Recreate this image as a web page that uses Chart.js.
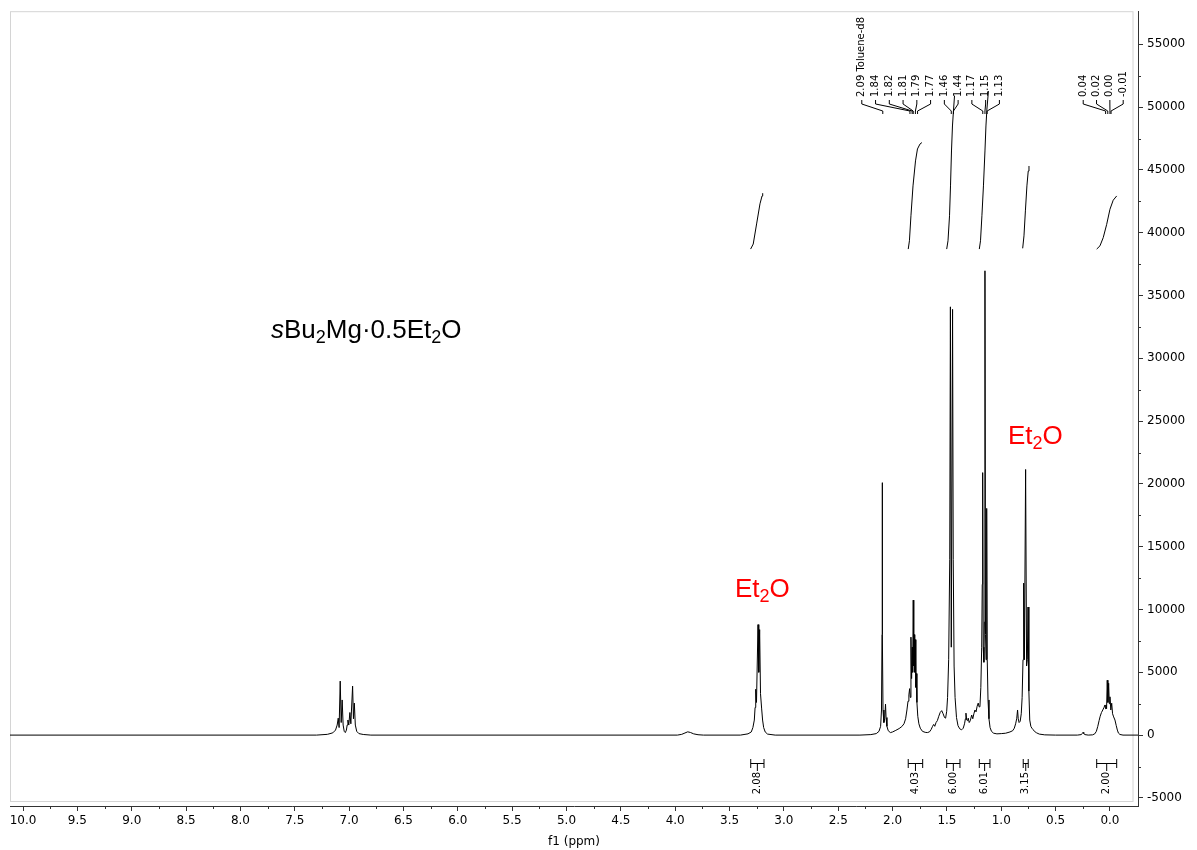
<!DOCTYPE html>
<html>
<head>
<meta charset="utf-8">
<script src="https://cdn.jsdelivr.net/npm/chart.js"></script>
<style>
html,body{margin:0;padding:0;background:#fff;}
#c{display:block;}
</style>
</head>
<body>
<canvas id="c" width="1197" height="850"></canvas>
<script>
// ---------- DATA (ppm, intensity) ----------
const baselineStart = [[10.12,0],[7.30,0]];
const tolueneAromatic = [[7.20,60],[7.15,180],[7.125,400],[7.110,800],[7.100,1350],[7.092,600],[7.082,4300],[7.073,1000],[7.064,2800],[7.055,800],[7.045,300],[7.035,200],[7.025,400],[7.018,800],[7.011,1200],[7.003,800],[6.993,1800],[6.984,900],[6.968,3900],[6.960,1300],[6.952,2550],[6.943,800],[6.930,300],[6.910,120],[6.870,50],[6.80,0]];
const bump389 = [[3.98,0],[3.94,60],[3.91,170],[3.885,260],[3.86,210],[3.83,100],[3.79,30],[3.74,0]];
const et2oCH2 = [[3.40,0],[3.33,100],[3.300,250],[3.285,600],[3.272,1200],[3.265,2200],[3.259,3650],[3.252,2600],[3.238,8800],[3.231,5000],[3.223,8400],[3.215,3300],[3.205,2150],[3.196,1200],[3.186,600],[3.172,250],[3.15,80],[3.08,0]];
const tolueneCH3 = [[2.30,0],[2.20,40],[2.15,120],[2.125,300],[2.110,700],[2.102,2000],[2.097,8000],[2.095,20100],[2.093,8000],[2.088,2000],[2.080,1000],[2.072,1300],[2.065,2470],[2.060,1400],[2.052,700],[2.040,350],[2.020,200],[2.000,250],[1.970,380],[1.940,520],[1.915,680],[1.895,900],[1.880,1300],[1.868,2000]];
const multiplet18 = [[1.858,2700],[1.850,3200],[1.843,3700],[1.837,3000],[1.831,7800],[1.825,4500],[1.819,7000],[1.815,5000],[1.810,10750],[1.805,5500],[1.800,8000],[1.796,5000],[1.791,7600],[1.786,3800],[1.782,4900],[1.776,2600],[1.768,1500],[1.758,900],[1.745,550],[1.725,300],[1.700,220],[1.680,200]];
const doublet145 = [[1.660,260],[1.645,450],[1.632,700],[1.622,850],[1.612,700],[1.600,1000],[1.588,1150],[1.575,1500],[1.562,1800],[1.548,1950],[1.535,1700],[1.522,1400],[1.512,1350],[1.502,1900],[1.494,3000],[1.484,6000],[1.474,14000],[1.468,34100],[1.460,7000],[1.448,33900],[1.442,14000],[1.434,5500],[1.425,3000],[1.412,1400],[1.398,750],[1.382,500],[1.365,420],[1.350,550]];
const triplet115 = [[1.338,900],[1.330,1300],[1.325,1750],[1.318,1200],[1.310,1150],[1.304,1350],[1.295,1000],[1.285,1150],[1.272,1600],[1.262,1300],[1.252,1700],[1.242,2000],[1.232,1850],[1.222,2300],[1.212,2550],[1.204,2250],[1.196,2300],[1.188,3800],[1.180,7000],[1.175,12000],[1.171,20900],[1.166,7000],[1.160,5800],[1.155,9000],[1.150,36970],[1.145,8000],[1.140,6000],[1.134,18050],[1.129,6000],[1.122,2800],[1.113,1300],[1.103,600],[1.090,300],[1.07,150],[1.04,100],[1.00,120],[0.96,150]];
const et2oCH3 = [[0.92,250],[0.895,350],[0.880,550],[0.868,900],[0.858,1300],[0.850,2000],[0.844,1300],[0.836,1000],[0.826,1100],[0.816,1700],[0.808,3000],[0.800,6000],[0.794,12100],[0.787,6000],[0.776,21150],[0.767,5500],[0.760,6000],[0.754,10200],[0.746,3500],[0.738,1200],[0.728,700],[0.718,550],[0.708,450],[0.695,300],[0.675,180],[0.650,80],[0.60,20],[0.50,0]];
const blip025 = [[0.30,0],[0.265,40],[0.255,120],[0.248,220],[0.241,120],[0.230,40],[0.200,0]];
const multiplet002 = [[0.16,20],[0.14,100],[0.125,300],[0.112,700],[0.100,1150],[0.090,1500],[0.078,1800],[0.066,2000],[0.055,2200],[0.046,2400],[0.041,2100],[0.037,2400],[0.031,2100],[0.025,4370],[0.019,2600],[0.012,4130],[0.006,2500],[0.000,3050],[-0.008,2000],[-0.016,2540],[-0.024,1700],[-0.034,1450],[-0.046,1200],[-0.058,750],[-0.068,400],[-0.078,160],[-0.092,50],[-0.12,0],[-0.258,0]];

// integral curves (ppm, curve height on the intensity axis)
const integral1 = [[3.306,38700],[3.282,39100],[3.251,40700],[3.220,42300],[3.201,42930],[3.195,43150]];
const integral2 = [[1.856,38700],[1.845,39360],[1.831,41350],[1.812,43730],[1.789,45720],[1.771,46670],[1.748,47060],[1.730,47180]];
const integral3 = [[1.502,38700],[1.490,39360],[1.476,41350],[1.467,43730],[1.458,46510],[1.449,48500],[1.440,49690],[1.430,50900]];
const integral4 = [[1.202,38700],[1.191,39360],[1.178,41350],[1.164,43730],[1.150,46510],[1.141,48500],[1.132,49850],[1.118,51280]];
const integral5 = [[0.803,38760],[0.791,39750],[0.778,41740],[0.764,43730],[0.752,44910],[0.745,45315]];
const integral6 = [[0.122,38700],[0.092,38955],[0.062,39610],[0.030,40670],[0.000,41870],[-0.030,42590],[-0.062,42930]];

// integral labels
const integralValues = ['2.08','4.03','6.00','6.01','3.15','2.00'];
const integralFrom   = [3.305,1.856,1.502,1.202,0.798,0.122];
const integralTo     = [3.183,1.723,1.380,1.104,0.752,-0.062];

// peak labels
const peakLabelsA = ['2.09 Toluene-d8','1.84','1.82','1.81','1.79','1.77','1.46','1.44','1.17','1.15','1.13'];
const peakPpmA    = [2.09,1.84,1.82,1.81,1.79,1.77,1.46,1.44,1.17,1.15,1.13];
const peakLabelsB = ['0.04','0.02','0.00','-0.01'];
const peakPpmB    = [0.04,0.02,0.00,-0.01];

// tick values
const xTickValues = [10.0,9.5,9.0,8.5,8.0,7.5,7.0,6.5,6.0,5.5,5.0,4.5,4.0,3.5,3.0,2.5,2.0,1.5,1.0,0.5,0.0];
const yTickValues = [-5000,0,5000,10000,15000,20000,25000,30000,35000,40000,45000,50000,55000];

// ---------- build ----------
const toXY = arr => arr.map(p => ({x:p[0], y:p[1]}));
const spectrum = [].concat(baselineStart, tolueneAromatic, bump389, et2oCH2, tolueneCH3, multiplet18, doublet145, triplet115, et2oCH3, blip025, multiplet002);
const lineDs = (arr) => ({data: toXY(arr), borderColor:'#000', borderWidth:1, pointRadius:0, tension:0, fill:false});

const FONT = 'DejaVu Sans';

function drawRich(ctx, parts, x, y, size, color){
  let cx = x;
  ctx.fillStyle = color;
  ctx.textBaseline = 'alphabetic';
  ctx.textAlign = 'left';
  for (const p of parts){
    const sz = p.sub ? Math.round(size*0.68) : size;
    ctx.font = (p.italic?'italic ':'') + sz + 'px "Liberation Sans", Arial, sans-serif';
    ctx.fillText(p.t, cx, y + (p.sub ? size*0.2 : 0));
    cx += ctx.measureText(p.t).width;
  }
}

const annot = {
  id:'annot',
  beforeDatasetsDraw(chart){
    const {ctx, chartArea:a} = chart;
    ctx.save();
    ctx.strokeStyle = '#d4d4d4';
    ctx.lineWidth = 1;
    ctx.strokeRect(a.left+0.5, a.top+0.5, a.right-a.left-5.5, a.bottom-a.top-5);
    ctx.restore();
  },
  afterDraw(chart){
    const {ctx, chartArea:a} = chart;
    const xs = chart.scales.x, ys = chart.scales.y;
    ctx.save();
    ctx.strokeStyle = '#333';
    ctx.lineWidth = 1;
    // minor ticks
    ctx.beginPath();
    for (let i=1;i<40;i+=2){
      const v = i*0.25;
      const px = Math.round(xs.getPixelForValue(v))+0.5;
      ctx.moveTo(px, a.bottom); ctx.lineTo(px, a.bottom+3);
    }
    for (let i=-1;i<23;i+=2){
      const v = i*2500;
      const py = Math.round(ys.getPixelForValue(v))+0.5;
      ctx.moveTo(a.right, py); ctx.lineTo(a.right+3, py);
    }
    ctx.stroke();

    // peak labels
    ctx.strokeStyle = '#000';
    ctx.fillStyle = '#000';
    ctx.font = '10px "' + FONT + '"';
    const group = (labels, ppms, off, sp) => {
      const p0 = xs.getPixelForValue(ppms[0]);
      labels.forEach((lab,i)=>{
        const lx = p0 + off + i*sp;
        const px = xs.getPixelForValue(ppms[i]);
        ctx.beginPath();
        ctx.moveTo(lx,100); ctx.lineTo(lx,104); ctx.lineTo(px,111); ctx.lineTo(px,114);
        ctx.stroke();
        ctx.save();
        ctx.translate(lx, 97);
        ctx.rotate(-Math.PI/2);
        ctx.textAlign='left'; ctx.textBaseline='middle';
        ctx.fillText(lab, 0, 0);
        ctx.restore();
      });
    };
    group(peakLabelsA, peakPpmA, -21, 13.76);
    group(peakLabelsB, peakPpmB, -22.4, 13.33);

    // integral labels
    integralValues.forEach((t,i)=>{
      const x0 = xs.getPixelForValue(integralFrom[i]);
      const x1 = xs.getPixelForValue(integralTo[i]);
      const c = (x0+x1)/2;
      ctx.beginPath();
      ctx.moveTo(x0,763.5); ctx.lineTo(x1,763.5);
      ctx.moveTo(x0,759); ctx.lineTo(x0,768);
      ctx.moveTo(x1,759); ctx.lineTo(x1,768);
      ctx.moveTo(c,763.5); ctx.lineTo(c,771);
      ctx.stroke();
      ctx.save();
      ctx.translate(c, 772);
      ctx.rotate(-Math.PI/2);
      ctx.textAlign='right'; ctx.textBaseline='middle';
      ctx.fillText(t, 0, 0);
      ctx.restore();
    });

    // compound name and Et2O labels
    drawRich(ctx, [{t:'s',italic:true},{t:'Bu'},{t:'2',sub:true},{t:'Mg\u00B70.5Et'},{t:'2',sub:true},{t:'O'}], 271, 338, 26, '#000');
    drawRich(ctx, [{t:'Et'},{t:'2',sub:true},{t:'O'}], 735, 597, 26, '#ff0000');
    drawRich(ctx, [{t:'Et'},{t:'2',sub:true},{t:'O'}], 1008, 444, 26, '#ff0000');
    ctx.restore();
  }
};

new Chart(document.getElementById('c'), {
  type:'line',
  data:{datasets:[lineDs(spectrum), lineDs(integral1), lineDs(integral2), lineDs(integral3), lineDs(integral4), lineDs(integral5), lineDs(integral6)]},
  options:{
    responsive:false,
    animation:false,
    devicePixelRatio:1,
    layout:{padding:{left:10, top:10, right:0, bottom:0}},
    plugins:{legend:{display:false}, tooltip:{enabled:false}},
    scales:{
      x:{
        type:'linear', reverse:true, min:-0.258, max:10.12, position:'bottom',
        afterBuildTicks: s => { s.ticks = xTickValues.map(v=>({value:v})); },
        afterFit: s => { s.height = 44; },
        grid:{drawOnChartArea:false, drawTicks:true, tickLength:5, color:'#333'},
        border:{color:'#333', width:1},
        ticks:{font:{family:FONT, size:12}, color:'#000', padding:3, maxRotation:0, autoSkip:false, callback: v => Number(v).toFixed(1)},
        title:{display:true, text:'f1 (ppm)', font:{family:FONT, size:12}, color:'#000', padding:{top:0, bottom:1}}
      },
      y:{
        type:'linear', position:'right', min:-5645, max:57640,
        afterBuildTicks: s => { s.ticks = yTickValues.map(v=>({value:v})); },
        afterFit: s => { s.width = 59; },
        grid:{drawOnChartArea:false, drawTicks:true, tickLength:5, color:'#333'},
        border:{color:'#333', width:1},
        ticks:{font:{family:FONT, size:12}, color:'#000', padding:4, autoSkip:false, callback: v => String(v)}
      }
    }
  },
  plugins:[annot]
});
</script>
</body>
</html>
